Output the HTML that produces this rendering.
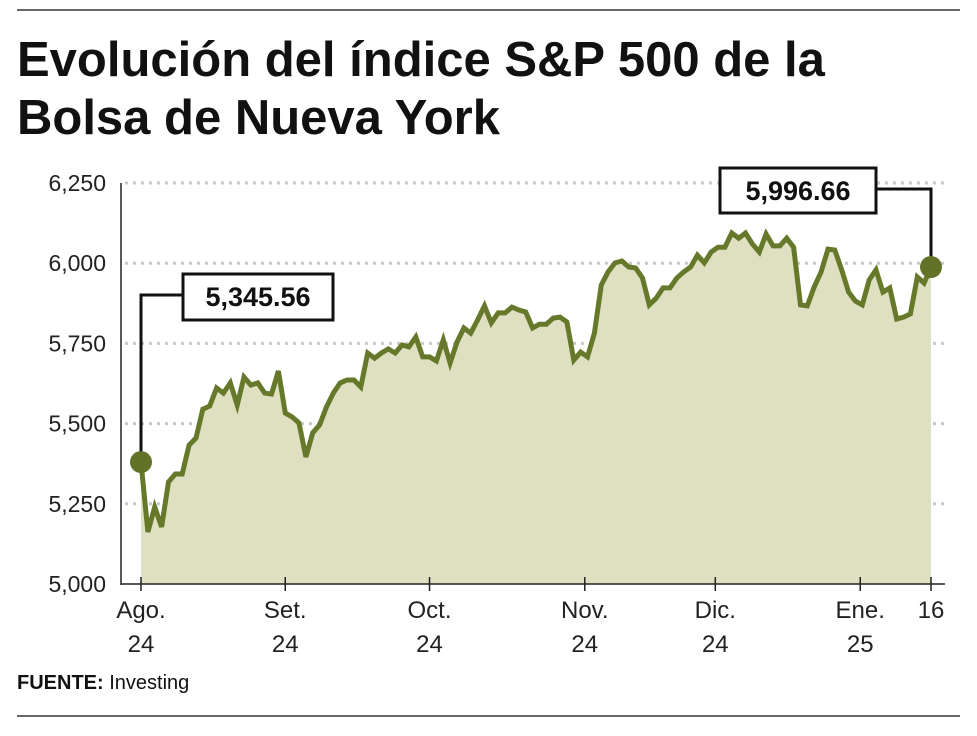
<!DOCTYPE html>
<html><head><meta charset="utf-8"><style>
body{margin:0;background:#fff;width:977px;height:736px;overflow:hidden;font-family:"Liberation Sans",sans-serif}
</style></head><body>
<svg width="977" height="736" style="display:block">
<line x1="17" y1="10" x2="960" y2="10" stroke="#333" stroke-width="1.5"/>
<text x="17" y="76" font-size="49" font-weight="900" fill="#111">Evolución del índice S&amp;P 500 de la</text>
<text x="17" y="134" font-size="49" font-weight="900" fill="#111">Bolsa de Nueva York</text>
<g id="grid"></g><g id="plot"></g><g id="axes"></g>
<text x="17" y="689" font-size="20" fill="#111"><tspan font-weight="bold">FUENTE:</tspan> Investing</text>
<line x1="17" y1="716" x2="960" y2="716" stroke="#333" stroke-width="1.5"/>
</svg>
<script>
const values=[5380,5162,5240,5178,5318,5343,5343,5433,5455,5545,5555,5611,5595,5627,5558,5645,5620,5627,5595,5592,5664,5533,5521,5502,5396,5471,5496,5552,5595,5627,5636,5636,5614,5720,5704,5720,5733,5720,5745,5739,5770,5708,5708,5695,5761,5689,5754,5798,5782,5823,5867,5814,5845,5845,5863,5854,5848,5798,5810,5810,5829,5832,5817,5698,5723,5708,5782,5932,5973,6001,6007,5988,5985,5954,5870,5891,5923,5923,5954,5973,5988,6025,6001,6035,6050,6050,6094,6078,6094,6060,6035,6091,6054,6054,6078,6050,5870,5867,5926,5973,6044,6041,5979,5910,5882,5870,5948,5979,5910,5923,5826,5832,5842,5957,5938,5988];
const yTicks=[5000,5250,5500,5750,6000,6250];
const yTickLabels=["5,000","5,250","5,500","5,750","6,000","6,250"];
const xTickIdx=[0,21,42,64.6,83.6,104.7,115];
const xTickTop=["Ago.","Set.","Oct.","Nov.","Dic.","Ene.","16"];
const xTickBottom=["24","24","24","24","24","25",""];
const startLabel="5,345.56", endLabel="5,996.66";
const NS="http://www.w3.org/2000/svg";
const X0=141,X1=931,Y0=584,Y1=183;
const x=i=>X0+(X1-X0)*i/(values.length-1);
const y=v=>Y0-(v-5000)/1250*(Y0-Y1);
function mk(t,a,p){const e=document.createElementNS(NS,t);for(const k in a)e.setAttribute(k,a[k]);p.appendChild(e);return e;}
const grid=document.getElementById('grid'),plot=document.getElementById('plot'),axes=document.getElementById('axes');
yTicks.forEach((t,i)=>{
 if(t>5000){const g=mk('line',{x1:125,x2:945,y1:y(t),y2:y(t),stroke:'#c8c8c8','stroke-width':3,'stroke-dasharray':'3 5'},grid);
 
 }
 const l=mk('text',{x:106,y:y(t)+8,'font-size':23,'text-anchor':'end',fill:'#222'},axes);l.textContent=yTickLabels[i];
 
 
});
let d='M'+x(0)+','+Y0;values.forEach((v,i)=>d+='L'+x(i).toFixed(1)+','+y(v).toFixed(1));d+='L'+x(values.length-1)+','+Y0+'Z';
const area=mk('path',{d:d,fill:'#dfe0c2'},plot);


const ln=mk('polyline',{points:values.map((v,i)=>x(i).toFixed(1)+','+y(v).toFixed(1)).join(' '),fill:'none',stroke:'#66792a','stroke-width':5,'stroke-linejoin':'miter'},plot);


const yax=mk('line',{x1:121,x2:121,y1:183,y2:585,stroke:'#222','stroke-width':1.5},axes);


const xax=mk('line',{x1:121,x2:945,y1:584,y2:584,stroke:'#222','stroke-width':1.5},axes);


xTickIdx.forEach((ix,i)=>{const xx=x(ix);
 const tk=mk('line',{x1:xx,x2:xx,y1:577,y2:591,stroke:'#222','stroke-width':1.5},axes);
 
 
 const t=mk('text',{x:xx,y:618,'font-size':24,'text-anchor':'middle',fill:'#222'},axes);t.textContent=xTickTop[i];
 
 
 const b=mk('text',{x:xx,y:652,'font-size':24,'text-anchor':'middle',fill:'#222'},axes);b.textContent=xTickBottom[i];
 
 
});
const sx=x(0),sy=y(values[0]),ex=x(values.length-1),ey=y(values[values.length-1]);
const c1=mk('polyline',{points:`${sx},${sy} ${sx},295 182,295`,fill:'none',stroke:'#111','stroke-width':3},axes);


const r1=mk('rect',{x:183,y:274,width:150,height:46,fill:'#fff',stroke:'#111','stroke-width':3},axes);


const t1=mk('text',{x:258,y:306,'font-size':27,'font-weight':'bold','text-anchor':'middle',fill:'#111'},axes);t1.textContent=startLabel;


const c2=mk('polyline',{points:`876,189 ${ex},189 ${ex},${ey}`,fill:'none',stroke:'#111','stroke-width':3},axes);


const r2=mk('rect',{x:720,y:168,width:156,height:45,fill:'#fff',stroke:'#111','stroke-width':3},axes);


const t2=mk('text',{x:798,y:200,'font-size':27,'font-weight':'bold','text-anchor':'middle',fill:'#111'},axes);t2.textContent=endLabel;


const d1=mk('circle',{cx:sx,cy:sy,r:11,fill:'#627328'},axes);


const d2=mk('circle',{cx:ex,cy:ey,r:11,fill:'#627328'},axes);


</script>
</body></html>
